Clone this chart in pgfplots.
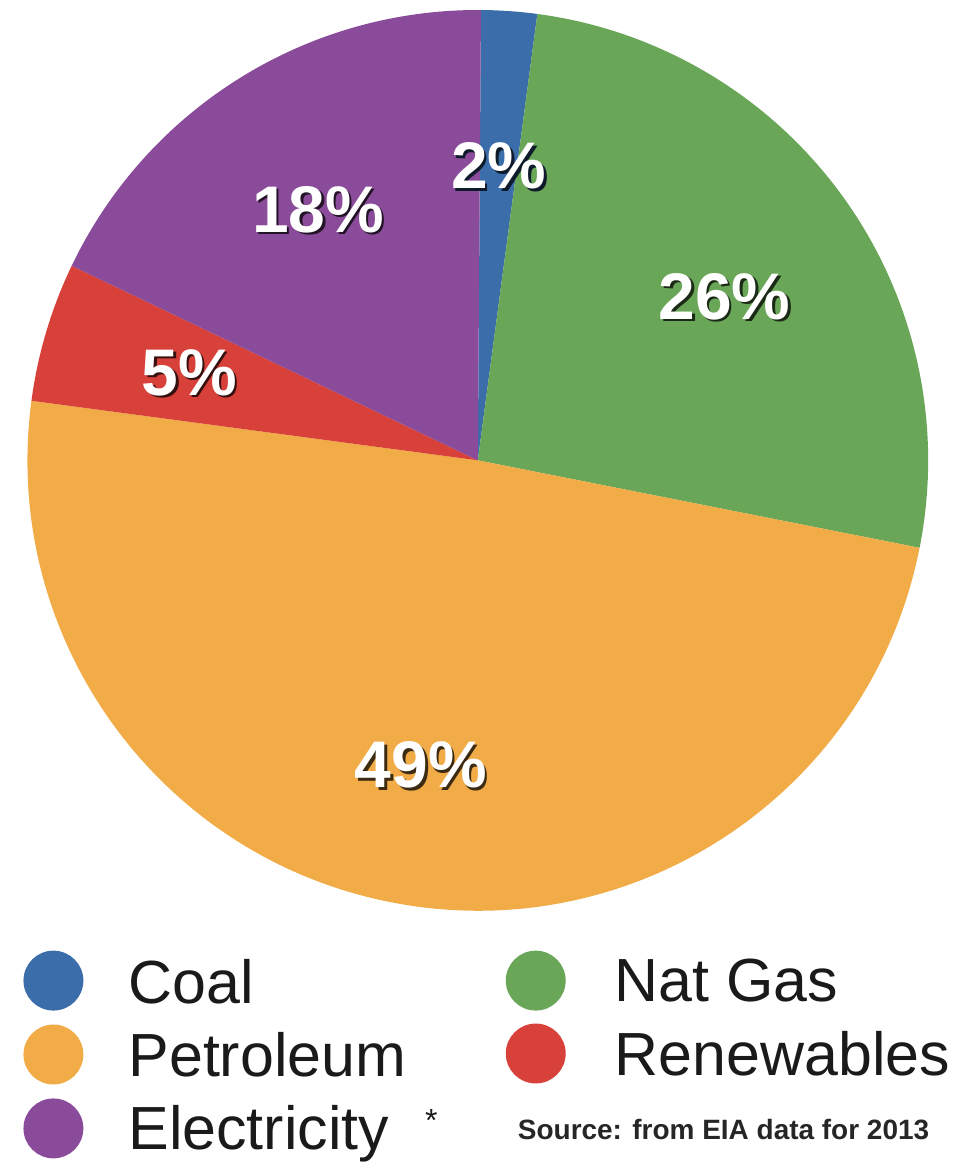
\documentclass[border=0pt]{standalone}
\usepackage{pgfplots}
\pgfplotsset{compat=1.18}
\usepackage{fontspec}
\setmainfont{Liberation Sans}
\definecolor{coal}{HTML}{3B6DAA}
\definecolor{natgas}{HTML}{6AA657}
\definecolor{petro}{HTML}{F1AC47}
\definecolor{renew}{HTML}{D8403A}
\definecolor{elec}{HTML}{8A4C9A}
\definecolor{txt}{HTML}{1A1A1A}
\newcommand\plab[4]{%
  \node[text=white,font=\fontsize{66}{70}\selectfont\bfseries] at (axis cs:#1,#2)
  {\makebox[0pt][l]{\hspace{2.5pt}\raisebox{-2.5pt}[0pt][0pt]{\color{black!75!#4}#3}}#3};}
\begin{document}
\begin{tikzpicture}
\begin{axis}[width=966pt,height=1162pt,scale only axis,
  xmin=0,xmax=966,ymin=0,ymax=1162,y dir=reverse,hide axis,clip=false]
\path (axis cs:0,0) rectangle (axis cs:966,1162);
\xdef\startang{89.6}
\foreach \v/\c in {2/coal,26/natgas,49/petro,5/renew,18/elec}{
  \pgfmathsetmacro\endang{\startang-3.6*\v}
  \edef\cmd{\noexpand\fill[\c] (axis cs:475,461) -- ++(\startang:451pt) arc[start angle=\startang,end angle=\endang,radius=451pt] -- cycle;}
  \cmd
  \xdef\startang{\endang}
}
\plab{496}{166}{2\%}{coal}
\plab{315}{210}{18\%}{elec}
\plab{722}{297}{26\%}{natgas}
\plab{186}{373}{5\%}{renew}
\plab{418}{766}{49\%}{petro}
% legend
\fill[coal] (axis cs:50,982) circle[radius=30pt];
\fill[petro] (axis cs:50,1056) circle[radius=30pt];
\fill[elec] (axis cs:50,1130) circle[radius=30pt];
\fill[natgas] (axis cs:533,982) circle[radius=30pt];
\fill[renew] (axis cs:533,1055) circle[radius=30pt];
\node[anchor=base west,inner sep=0,text=txt,font=\fontsize{61}{70}\selectfont] at (axis cs:125,1005) {Coal};
\node[anchor=base west,inner sep=0,text=txt,font=\fontsize{61}{70}\selectfont] at (axis cs:125,1078) {Petroleum};
\node[anchor=base west,inner sep=0,text=txt,font=\fontsize{61}{70}\selectfont] at (axis cs:125,1151) {Electricity};
\node[anchor=base west,inner sep=0,text=txt,font=\fontsize{32}{32}\selectfont] at (axis cs:422,1133) {*};
\node[anchor=base west,inner sep=0,text=txt,font=\fontsize{61}{70}\selectfont] at (axis cs:612,1003) {Nat Gas};
\node[anchor=base west,inner sep=0,text=txt,font=\fontsize{61}{70}\selectfont] at (axis cs:612,1077) {Renewables};
\node[anchor=base west,inner sep=0,text=black!85,font=\fontsize{28}{30}\selectfont\bfseries] at (axis cs:515,1141) {Source: from EIA data for 2013};
\end{axis}
\end{tikzpicture}
\end{document}
